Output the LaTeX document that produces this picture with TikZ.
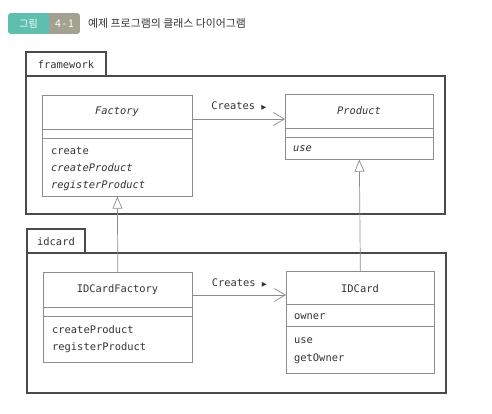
\documentclass[tikz,border=0pt]{standalone}
\usepackage{fontspec}
\setmainfont{DejaVu Sans Mono}
\newfontfamily\kr{Noto Sans CJK KR}
\newfontfamily\sym{DejaVu Sans}
\usetikzlibrary{arrows.meta}
\definecolor{clsc}{HTML}{8C8C8C}
\definecolor{pkgc}{HTML}{4A4A4A}
\definecolor{txtc}{HTML}{333333}
\definecolor{badgeteal}{HTML}{5EBFAE}
\definecolor{badgegray}{HTML}{A2A291}
\begin{document}
\begin{tikzpicture}[x=1pt,y=-1pt,
  every node/.style={font=\fontsize{10.4}{12}\selectfont, text=txtc},
  pkgline/.style={draw=pkgc, line width=1.3pt},
  clsbox/.style={draw=clsc, line width=0.7pt, fill=white, inner sep=0pt, anchor=north west},
  sepline/.style={draw=clsc, line width=0.7pt},
  member/.style={anchor=west, inner sep=0pt},
  cname/.style={inner sep=0pt},
  creates/.style={draw=clsc, line width=0.7pt, -{Straight Barb[length=11pt,width=13pt,line width=0.7pt]}},
  gen/.style={draw=clsc, line width=0.7pt, -{Triangle[open,length=12pt,width=10pt,fill=white,line width=0.7pt]}},
  tabtext/.style={inner sep=0pt}
]
\useasboundingbox (0,0) rectangle (492,413);

% header badge
\begin{scope}
  \clip[rounded corners=3pt] (8,13) rectangle (80,34);
  \fill[badgeteal] (8,13) rectangle (49,34);
  \fill[badgegray] (49,13) rectangle (80,34);
\end{scope}
\node[inner sep=0pt, text=white, font=\kr\fontsize{10}{11}\selectfont] (badgeA) at (28.5,23.5) {그림};
\node[inner sep=0pt, text=white, font=\kr\fontsize{10.5}{11}\selectfont] (badgeB) at (64.5,23.5) {4{\,}-{\,}1};
\node[anchor=west, inner sep=0pt, font=\kr\fontsize{10.9}{12}\selectfont, text=txtc] (title) at (88,23) {예제 프로그램의 클래스 다이어그램};

% framework package
\draw[pkgline] (26,76) rectangle (445,214);
\draw[pkgline] (26,52) rectangle (106,76);
\node[tabtext] (fwlabel) at (66,64.5) {framework};

% idcard package
\draw[pkgline] (27,253) rectangle (446,393);
\draw[pkgline] (27,229) rectangle (85,253);
\node[tabtext] (idlabel) at (56,241.5) {idcard};

% Factory
\node[clsbox, minimum width=150pt, minimum height=101pt] (factory) at (42,95) {};
\draw[sepline] (42,129) -- (192,129);
\draw[sepline] (42,138) -- (192,138);
\node[cname, font=\itshape\fontsize{10.4}{12}\selectfont] (factoryname) at (117,112) {Factory};
\node[member] (f1) at (51,150.5) {create};
\node[member, font=\itshape\fontsize{10.4}{12}\selectfont] (f2) at (51,168) {createProduct};
\node[member, font=\itshape\fontsize{10.4}{12}\selectfont] (f3) at (51,186) {registerProduct};

% Product
\node[clsbox, minimum width=148pt, minimum height=65pt] (product) at (285,94) {};
\draw[sepline] (285,128) -- (433,128);
\draw[sepline] (285,137) -- (433,137);
\node[cname, font=\itshape\fontsize{10.4}{12}\selectfont] (productname) at (359,111) {Product};
\node[member, font=\itshape\fontsize{10.4}{12}\selectfont] (p1) at (293,149) {use};

% IDCardFactory
\node[clsbox, minimum width=149pt, minimum height=90pt] (idf) at (43,272) {};
\draw[sepline] (43,307) -- (192,307);
\draw[sepline] (43,316) -- (192,316);
\node[cname] (idfname) at (117.5,289.5) {IDCardFactory};
\node[member] (i1) at (52,330) {createProduct};
\node[member] (i2) at (52,348) {registerProduct};

% IDCard
\node[clsbox, minimum width=148pt, minimum height=102pt] (idcard) at (286,271) {};
\draw[sepline] (286,304) -- (434,304);
\draw[sepline] (286,326) -- (434,326);
\node[cname] (idcardname) at (360,288.5) {IDCard};
\node[member] (c1) at (294,317) {owner};
\node[member] (c2) at (294,341) {use};
\node[member] (c3) at (294,358.5) {getOwner};

% connectors
\coordinate (ya) at (0,119);
\coordinate (yb) at (0,295);
\draw[creates] (factory.east |- ya) -- node[midway, yshift=13pt, inner sep=0pt] (lab1) {Creates {\sym\fontsize{6.5}{8}\selectfont ▶}} (product.west |- ya);
\draw[creates] (idf.east |- yb) -- node[midway, yshift=12pt, inner sep=0pt] (lab2) {Creates {\sym\fontsize{6.5}{8}\selectfont ▶}} (idcard.west |- yb);
\draw[gen] (idf.north) -- (factory.south);
\draw[gen] (idcard.north) -- (product.south);
\end{tikzpicture}
\end{document}
